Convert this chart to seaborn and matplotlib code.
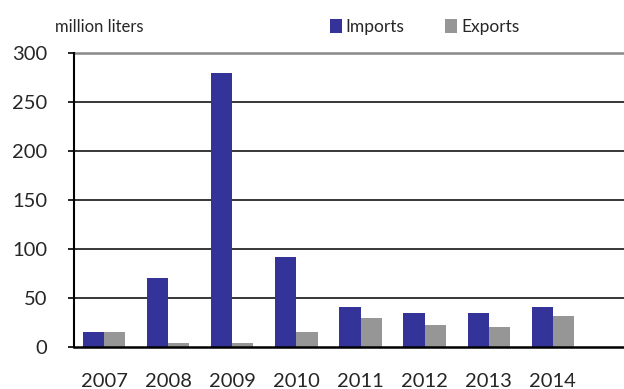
import matplotlib
matplotlib.use("Agg")
import matplotlib.pyplot as plt
import seaborn as sns
import pandas as pd

years = ["2007", "2008", "2009", "2010", "2011", "2012", "2013", "2014"]
imports = [15.5, 70, 280, 92, 40.5, 35, 35, 40.5]
exports = [15.5, 4.5, 4, 15, 29.5, 22.5, 20.5, 31.5]
series = ["Imports", "Exports"]
colors = ["#333399", "#969696"]
yticks = [0, 50, 100, 150, 200, 250, 300]

df = pd.DataFrame({
    "year": years * 2,
    "value": imports + exports,
    "series": [series[0]] * len(years) + [series[1]] * len(years),
})

sns.set_style("white")
plt.rcParams["font.family"] = ["Lato", "DejaVu Sans"]

fig = plt.figure(figsize=(6.24, 3.89), dpi=100)
ax = fig.add_axes([74 / 624, 1 - 347 / 389, 1 - 74 / 624, (347 - 53) / 389])

sns.barplot(data=df, x="year", y="value", hue="series", palette=colors,
            width=0.66, saturation=1, ax=ax, legend=False, linewidth=0)

ax.set_ylim(0, 300)
ax.set_xlim(-0.47, 8.11)
ax.set_yticks(yticks)
ax.set_yticklabels([str(v) for v in yticks])
for v in yticks[1:-1]:
    ax.axhline(v, color="black", lw=1.1, zorder=0)
ax.axhline(300, color="#888888", lw=1.8, zorder=0, clip_on=False)

for s in ["top", "right"]:
    ax.spines[s].set_visible(False)
ax.spines["left"].set_color("black")
ax.spines["left"].set_linewidth(1.5)
ax.spines["bottom"].set_color("black")
ax.spines["bottom"].set_linewidth(1.8)

ax.tick_params(axis="y", direction="out", length=4, width=1.2, color="black",
               left=True, labelsize=14.5, pad=15)
ax.tick_params(axis="x", length=0, labelsize=14.5, pad=19)
ax.set_xlabel("")
ax.set_ylabel("")

fig.text(55 / 624, 1 - 27 / 389, "million liters", fontsize=12, va="center", ha="left")

from matplotlib.patches import Patch
handles = [Patch(facecolor=c, edgecolor="none") for c in colors]
fig.legend(handles, series, loc="center left", bbox_to_anchor=(330 / 624, 1 - 27 / 389),
           ncol=2, frameon=False, fontsize=12.5, handlelength=0.7, handleheight=0.9,
           handletextpad=0.2, columnspacing=2.35, borderaxespad=0, borderpad=0)

fig.savefig("out.png", dpi=100)
